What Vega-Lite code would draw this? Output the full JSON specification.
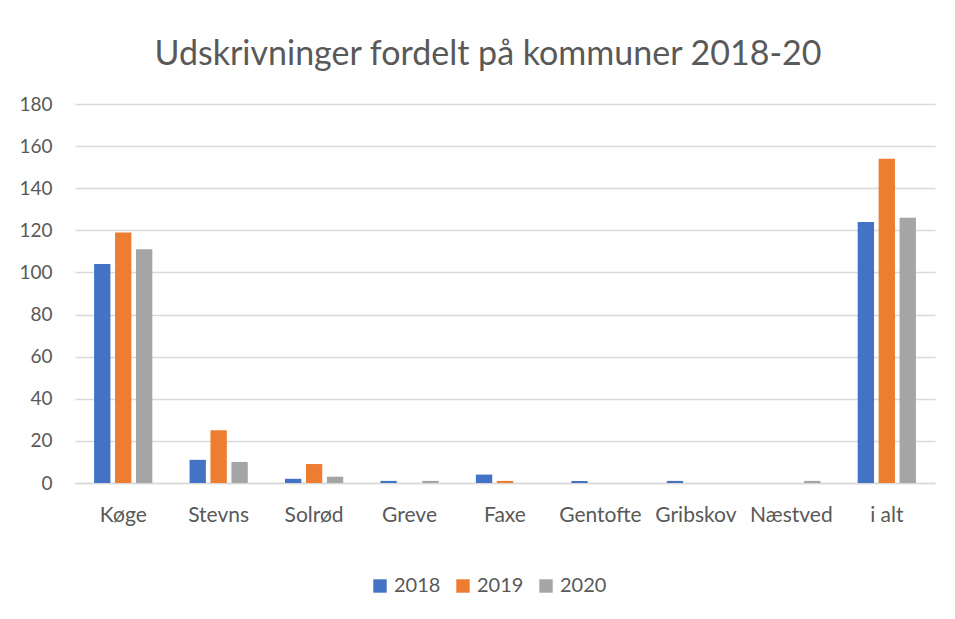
{
  "$schema": "https://vega.github.io/schema/vega-lite/v6.json",
  "width": 860,
  "height": 379,
  "autosize": {"type": "none"},
  "padding": {"left": 75, "top": 104, "right": 20, "bottom": 136},
  "background": "white",
  "title": {
    "text": "Udskrivninger fordelt på kommuner 2018-20",
    "font": "Lato",
    "fontSize": 34,
    "fontWeight": "normal",
    "color": "#595959",
    "anchor": "middle",
    "baseline": "alphabetic",
    "offset": -4,
    "dx": -17
  },
  "data": {
    "values": [
      {"kommune": "Køge", "år": "2018", "antal": 104},
      {"kommune": "Køge", "år": "2019", "antal": 119},
      {"kommune": "Køge", "år": "2020", "antal": 111},
      {"kommune": "Stevns", "år": "2018", "antal": 11},
      {"kommune": "Stevns", "år": "2019", "antal": 25},
      {"kommune": "Stevns", "år": "2020", "antal": 10},
      {"kommune": "Solrød", "år": "2018", "antal": 2},
      {"kommune": "Solrød", "år": "2019", "antal": 9},
      {"kommune": "Solrød", "år": "2020", "antal": 3},
      {"kommune": "Greve", "år": "2018", "antal": 1},
      {"kommune": "Greve", "år": "2019", "antal": 0},
      {"kommune": "Greve", "år": "2020", "antal": 1},
      {"kommune": "Faxe", "år": "2018", "antal": 4},
      {"kommune": "Faxe", "år": "2019", "antal": 1},
      {"kommune": "Faxe", "år": "2020", "antal": 0},
      {"kommune": "Gentofte", "år": "2018", "antal": 1},
      {"kommune": "Gentofte", "år": "2019", "antal": 0},
      {"kommune": "Gentofte", "år": "2020", "antal": 0},
      {"kommune": "Gribskov", "år": "2018", "antal": 1},
      {"kommune": "Gribskov", "år": "2019", "antal": 0},
      {"kommune": "Gribskov", "år": "2020", "antal": 0},
      {"kommune": "Næstved", "år": "2018", "antal": 0},
      {"kommune": "Næstved", "år": "2019", "antal": 0},
      {"kommune": "Næstved", "år": "2020", "antal": 1},
      {"kommune": "i alt", "år": "2018", "antal": 124},
      {"kommune": "i alt", "år": "2019", "antal": 154},
      {"kommune": "i alt", "år": "2020", "antal": 126}
    ]
  },
  "mark": {"type": "bar"},
  "encoding": {
    "x": {
      "field": "kommune",
      "type": "nominal",
      "sort": null,
      "title": null,
      "scale": {"paddingInner": 0.39, "paddingOuter": 0.2},
      "axis": {
        "labelAngle": 0,
        "labelFont": "Lato",
        "labelFontSize": 21,
        "labelColor": "#595959",
        "labelPadding": 21,
        "ticks": false,
        "domainColor": "#d9d9d9",
        "domainWidth": 1.5
      }
    },
    "xOffset": {
      "field": "år",
      "type": "nominal",
      "scale": {"paddingInner": 0.22}
    },
    "y": {
      "field": "antal",
      "type": "quantitative",
      "title": null,
      "scale": {"domain": [0, 180]},
      "axis": {
        "values": [0, 20, 40, 60, 80, 100, 120, 140, 160, 180],
        "labelFont": "Lato",
        "labelFontSize": 19,
        "labelColor": "#595959",
        "labelPadding": 23,
        "ticks": false,
        "domain": false,
        "gridColor": "#d9d9d9",
        "gridWidth": 1.5
      }
    },
    "color": {
      "field": "år",
      "type": "nominal",
      "scale": {"domain": ["2018", "2019", "2020"], "range": ["#4472c4", "#ed7d31", "#a5a5a5"]},
      "legend": {
        "title": null,
        "orient": "none",
        "direction": "horizontal",
        "legendX": 295,
        "legendY": 472,
        "symbolType": "square",
        "symbolSize": 180,
        "symbolStrokeWidth": 0,
        "labelFont": "Lato",
        "labelFontSize": 20,
        "labelColor": "#595959",
        "columnPadding": 12,
        "labelOffset": 4
      }
    }
  },
  "config": {"view": {"stroke": null}}
}
